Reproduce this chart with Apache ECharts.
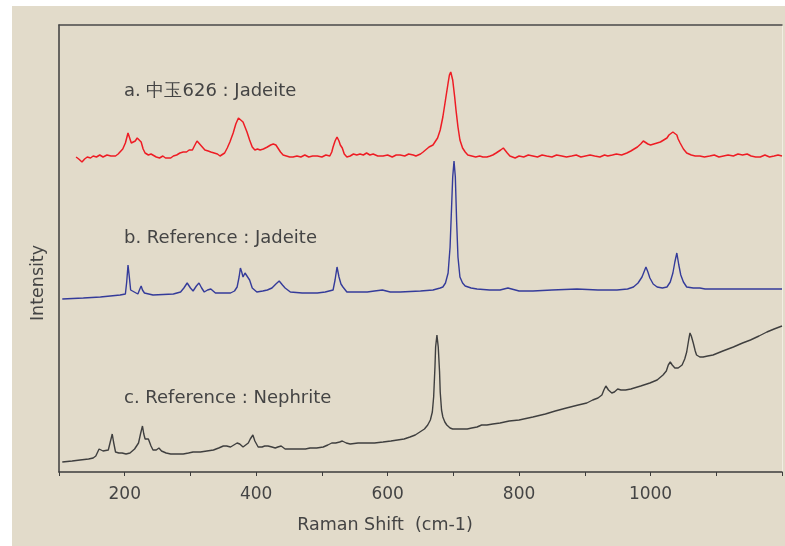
<!DOCTYPE html>
<html>
<head>
<meta charset="utf-8">
<script src="https://cdn.jsdelivr.net/npm/echarts@6/dist/echarts.min.js"></script>
<style>
html,body{margin:0;padding:0;background:#ffffff;}
#chart{position:absolute;left:12px;top:6px;width:773px;height:540px;}
</style>
</head>
<body>
<div id="chart"></div>
<script>
// Raman shift (cm-1) vs relative intensity (arbitrary, offset spectra)
const xTicks = [200, 400, 600, 800, 1000];
const xName = 'Raman Shift  (cm-1)';
const yName = 'Intensity';
const labelA = 'a. 中玉626 : Jadeite';
const labelB = 'b. Reference : Jadeite';
const labelC = 'c. Reference : Nephrite';

const seriesA = [[126,315],[130,313],[135,310],[139,313],[143,315],[148,314],[152,316],[157,315],[162,317],[167,315],[173,317],[179,316],[186,316],[190,318],[193,320],[197,323],[201,329],[203,334],[205,339],[207,335],[210,329],[213,328],[216,331],[219,334],[222,336],[225,330],[228,323],[231,319],[236,317],[240,318],[243,316],[248,315],[253,314],[258,316],[262,314],[265,315],[270,314],[274,316],[279,317],[284,319],[289,320],[294,320],[298,322],[303,322],[306,326],[310,331],[314,328],[318,325],[322,322],[327,321],[331,320],[336,319],[341,318],[345,316],[348,315],[352,319],[356,324],[360,330],[365,339],[369,348],[373,354],[376,353],[380,350],[383,345],[386,340],[390,332],[394,325],[398,322],[402,323],[406,322],[411,323],[414,324],[417,325],[422,327],[426,328],[430,327],[433,325],[437,320],[441,317],[446,316],[451,315],[456,315],[462,316],[468,315],[474,317],[480,315],[486,316],[493,316],[500,315],[506,317],[512,316],[515,320],[517,325],[520,331],[523,335],[526,331],[528,327],[531,324],[534,318],[538,315],[543,316],[548,318],[553,317],[558,318],[563,317],[568,319],[573,317],[578,318],[585,316],[593,316],[600,317],[607,315],[613,317],[619,317],[626,316],[632,318],[639,317],[643,316],[646,315],[650,318],[654,320],[657,322],[663,325],[669,327],[673,331],[676,334],[680,342],[684,355],[688,372],[692,389],[694,397],[696,400],[698,398],[699,392],[702,375],[704,362],[707,345],[710,332],[714,324],[718,320],[722,317],[728,316],[734,315],[740,316],[745,315],[751,315],[756,316],[760,317],[765,319],[768,319],[772,322],[776,324],[779,322],[782,319],[786,316],[790,315],[794,314],[800,316],[807,315],[814,317],[821,316],[828,315],[835,317],[842,316],[850,315],[857,317],[865,316],[872,315],[880,316],[887,317],[894,315],[901,316],[908,317],[915,316],[923,315],[930,317],[935,316],[938,314],[942,317],[948,318],[956,317],[964,319],[970,321],[975,323],[980,325],[985,328],[989,331],[992,330],[996,328],[1000,327],[1005,328],[1010,329],[1015,330],[1020,332],[1025,334],[1028,337],[1030,339],[1034,340],[1037,341],[1040,337],[1042,333],[1045,329],[1050,323],[1055,319],[1062,317],[1068,316],[1075,316],[1082,315],[1090,316],[1097,317],[1104,315],[1111,316],[1118,317],[1126,316],[1133,318],[1140,317],[1147,318],[1153,316],[1160,315],[1167,315],[1174,317],[1181,315],[1188,316],[1194,317],[1200,316]];

const seriesB = [[105,173],[137,174],[163,175],[193,177],[201,178],[203,190],[205,207],[207,195],[209,182],[211,180],[220,178],[223,183],[225,186],[227,182],[230,179],[243,177],[274,178],[285,180],[290,184],[295,189],[300,184],[304,181],[309,186],[313,189],[317,184],[321,180],[326,182],[331,183],[334,181],[338,179],[361,179],[367,181],[371,185],[374,195],[376,204],[378,200],[380,195],[383,199],[386,201],[390,192],[394,184],[401,180],[410,181],[417,182],[424,184],[430,188],[435,191],[440,187],[444,184],[452,180],[470,179],[493,179],[505,180],[517,182],[520,192],[523,205],[526,195],[529,188],[532,185],[538,180],[555,180],[569,180],[580,181],[592,182],[604,180],[619,180],[650,181],[669,182],[680,184],[684,185],[688,189],[692,199],[695,225],[697,260],[699,295],[701,311],[703,295],[705,250],[707,215],[710,195],[714,189],[718,186],[727,184],[736,183],[755,182],[771,182],[777,183],[780,185],[783,184],[786,182],[800,181],[821,181],[850,182],[888,183],[920,182],[949,182],[965,183],[974,185],[981,189],[987,195],[990,200],[993,205],[996,200],[999,194],[1004,188],[1010,185],[1018,184],[1025,185],[1030,190],[1034,199],[1037,210],[1040,219],[1043,207],[1046,197],[1050,190],[1055,185],[1065,184],[1075,184],[1083,183],[1100,183],[1126,183],[1160,183],[1200,183]];

const seriesC = [[105,10],[120,11],[132,12],[145,13],[152,14],[156,16],[158,18],[161,23],[163,25],[167,21],[170,20],[175,22],[178,30],[181,38],[183,30],[186,20],[191,19],[196,19],[202,18],[208,19],[215,23],[221,29],[224,38],[227,46],[229,38],[231,33],[234,34],[236,33],[240,26],[243,22],[248,22],[252,24],[256,21],[259,19],[263,19],[266,20],[270,18],[274,18],[281,18],[289,18],[297,19],[304,20],[310,20],[315,20],[325,21],[335,22],[343,24],[350,26],[355,26],[361,25],[366,27],[371,29],[375,28],[380,25],[384,27],[388,29],[391,33],[395,37],[398,31],[403,25],[409,25],[413,26],[418,26],[424,25],[429,24],[433,25],[438,26],[441,24],[444,23],[455,23],[467,23],[475,23],[482,24],[492,24],[502,25],[509,27],[515,29],[521,29],[527,30],[531,31],[537,29],[543,28],[555,29],[568,29],[580,29],[593,30],[605,31],[615,32],[625,33],[634,35],[642,37],[649,40],[656,43],[661,47],[665,52],[668,60],[670,75],[672,105],[673,125],[675,137],[677,125],[679,100],[680,80],[682,62],[684,55],[687,50],[690,47],[695,44],[699,43],[710,43],[721,43],[728,44],[736,45],[743,47],[751,47],[760,48],[771,49],[785,51],[800,52],[821,55],[840,58],[855,61],[872,64],[890,67],[903,69],[912,72],[920,74],[926,77],[929,82],[932,86],[936,82],[941,79],[945,80],[950,83],[955,82],[962,82],[970,83],[985,86],[999,89],[1010,92],[1019,97],[1024,101],[1027,107],[1030,110],[1033,107],[1037,104],[1042,104],[1048,107],[1052,113],[1055,120],[1058,132],[1060,139],[1062,136],[1065,129],[1068,121],[1070,117],[1075,115],[1080,115],[1087,116],[1095,117],[1110,121],[1126,125],[1140,129],[1152,132],[1165,136],[1177,140],[1188,143],[1200,146]];

const FONT = 'DejaVu Sans';
const TXT = '#444444';

const chart = echarts.init(document.getElementById('chart'));
chart.setOption({
  backgroundColor: '#e2dbca',
  animation: false,
  grid: {left: 47, top: 19, right: 3, bottom: 74},
  xAxis: [{
    type: 'value', min: 100, max: 1200, interval: 100,
    axisLine: {show: true, onZero: false, lineStyle: {color: '#3c3c3c', width: 1.5}},
    axisTick: {show: true, inside: false, length: 4, lineStyle: {color: '#3c3c3c', width: 1}},
    axisLabel: {
      fontFamily: FONT, fontSize: 17, color: TXT, margin: 14,
      formatter: v => (xTicks.indexOf(v) >= 0 ? String(v) : '')
    },
    splitLine: {show: false}
  }, {
    type: 'value', min: 100, max: 1200, position: 'top',
    axisLine: {show: true, onZero: false, lineStyle: {color: '#4a4a4a', width: 1.5}},
    axisTick: {show: false}, axisLabel: {show: false}, splitLine: {show: false}
  }],
  yAxis: [{
    type: 'value', min: 0, max: 447,
    axisLine: {show: true, onZero: false, lineStyle: {color: '#3c3c3c', width: 1.5}},
    axisTick: {show: false}, axisLabel: {show: false}, splitLine: {show: false}
  }, {
    type: 'value', min: 0, max: 447, position: 'right',
    axisLine: {show: true, onZero: false, lineStyle: {color: '#f2ede2', width: 1}},
    axisTick: {show: false}, axisLabel: {show: false}, splitLine: {show: false}
  }],
  graphic: [
    {type: 'text', left: 112, top: 76, style: {text: labelA, fontFamily: FONT, fontSize: 18, fill: TXT}},
    {type: 'text', left: 112, top: 223, style: {text: labelB, fontFamily: FONT, fontSize: 18, fill: TXT}},
    {type: 'text', left: 112, top: 383, style: {text: labelC, fontFamily: FONT, fontSize: 18, fill: TXT}},
    {type: 'text', x: 373, y: 519, style: {text: xName, fontFamily: FONT, fontSize: 17.5, fill: TXT, align: 'center', verticalAlign: 'middle'}},
    {type: 'text', x: 26, y: 277, rotation: Math.PI / 2, style: {text: yName, fontFamily: FONT, fontSize: 17.5, fill: TXT, align: 'center', verticalAlign: 'middle'}}
  ],
  series: [
    {type: 'line', data: seriesA, showSymbol: false, lineStyle: {color: '#ee1c24', width: 1.5}, silent: true},
    {type: 'line', data: seriesB, showSymbol: false, lineStyle: {color: '#343b9a', width: 1.4}, silent: true},
    {type: 'line', data: seriesC, showSymbol: false, lineStyle: {color: '#3f3f3f', width: 1.4}, silent: true}
  ]
});
</script>
</body>
</html>
